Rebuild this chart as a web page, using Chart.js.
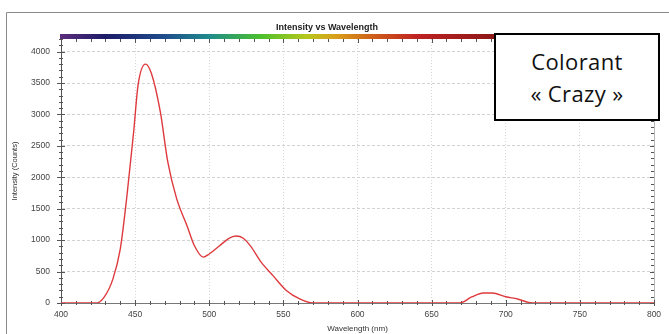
<!DOCTYPE html>
<html>
<head>
<meta charset="utf-8">
<title>Intensity vs Wavelength</title>
<script src="https://cdn.jsdelivr.net/npm/chart.js@4.4.1/dist/chart.umd.min.js"></script>
<style>
  html, body { margin: 0; padding: 0; background: #fff; }
  #wrap { position: relative; width: 669px; height: 334px; }
  #spectrum { position: absolute; left: 0; top: 0; }
  #tag {
    position: absolute; left: 494px; top: 33px; width: 166px; height: 88px;
    box-sizing: border-box; border: 2px solid #000; background: #fff;
    padding-top: 10px; text-align: center; color: #111;
    font-family: "Open Sans", "Liberation Sans", sans-serif; font-size: 22px; line-height: 32px;
    letter-spacing: 0.4px;
  }
</style>
</head>
<body>
<div id="wrap">
  <canvas id="spectrum" width="669" height="334"></canvas>
  <div id="tag">Colorant<br>« Crazy »</div>
</div>
<script>
// Emission spectrum of the dye (wavelength in nm, intensity in counts)
const wavelengthNm = [400, 424, 429, 435, 440, 444.5, 449, 452, 457, 461, 467, 472, 478, 485, 490, 496, 500, 507, 513, 518, 523, 528, 535, 543, 552, 561, 570, 669, 677, 685, 691, 700, 708, 718, 800];
const intensityCounts = [0, 0, 90, 380, 860, 1710, 2720, 3470, 3800, 3650, 3040, 2250, 1660, 1230, 910, 730, 780, 910, 1025, 1065, 1030, 900, 650, 435, 200, 65, 0, 0, 96, 160, 160, 100, 64, 0, 0];

// Axis tick labels
const xTickValues = [400, 450, 500, 550, 600, 650, 700, 750, 800];
const yTickValues = [0, 500, 1000, 1500, 2000, 2500, 3000, 3500, 4000];

// Visible-spectrum colour ramp drawn above the plot
const rampNm = [400, 430, 470, 500, 535, 565, 585, 610, 640, 690, 800];
const rampColors = ['#5b2d7c', '#1c1b68', '#1f4d8c', '#1f8c8c', '#4cc02c', '#b5c81c', '#d9a01a', '#cf6019', '#bf2222', '#8f1818', '#7d1010'];

const points = wavelengthNm.map((x, i) => ({ x, y: intensityCounts[i] }));

const decorations = {
  id: 'decorations',
  beforeDraw(chart) {
    const { ctx } = chart;
    ctx.save();
    ctx.strokeStyle = '#8a8a8a';
    ctx.lineWidth = 1;
    ctx.beginPath();
    ctx.moveTo(6.5, 334);
    ctx.lineTo(6.5, 12.5);
    ctx.lineTo(669, 12.5);
    ctx.stroke();
    ctx.restore();
  },
  beforeDatasetsDraw(chart) {
    const { ctx, chartArea: a, scales: { x, y } } = chart;
    ctx.save();
    // colour ramp
    const g = ctx.createLinearGradient(a.left, 0, a.right, 0);
    rampNm.forEach((nm, i) => g.addColorStop((nm - 400) / 400, rampColors[i]));
    ctx.fillStyle = g;
    ctx.fillRect(a.left - 1, a.top - 5, a.right - a.left + 1, 5);

    // right axis line
    ctx.strokeStyle = '#b8b8b8';
    ctx.lineWidth = 1;
    ctx.beginPath();
    ctx.moveTo(Math.round(a.right) + 0.5, a.top);
    ctx.lineTo(Math.round(a.right) + 0.5, a.bottom);
    ctx.stroke();

    // minor and major tick marks on all four sides
    ctx.strokeStyle = '#555';
    ctx.beginPath();
    for (let nm = 400; nm <= 800; nm += 10) {
      const px = Math.round(x.getPixelForValue(nm)) + 0.5;
      const major = nm % 50 === 0;
      ctx.moveTo(px, a.bottom - (major ? 3 : 2));
      ctx.lineTo(px, a.bottom + (major ? 3 : 2));
      ctx.moveTo(px, a.top);
      ctx.lineTo(px, a.top + (major ? 4 : 3));
    }
    for (let v = 0; v <= 4200; v += 100) {
      const py = Math.round(y.getPixelForValue(v)) + 0.5;
      const major = v % 500 === 0;
      ctx.moveTo(a.left - (major ? 4 : 2), py);
      ctx.lineTo(a.left + (major ? 4 : 2), py);
      ctx.moveTo(a.right - (major ? 4 : 3), py);
      ctx.lineTo(a.right, py);
    }
    ctx.stroke();
    ctx.restore();
  }
};

new Chart(document.getElementById('spectrum'), {
  type: 'line',
  data: {
    datasets: [{
      data: points,
      borderColor: 'rgb(222, 58, 62)',
      borderWidth: 1.4,
      pointRadius: 0,
      fill: false,
      cubicInterpolationMode: 'monotone'
    }]
  },
  options: {
    responsive: false,
    animation: false,
    events: [],
    layout: { padding: { top: 0, left: 0, right: 15, bottom: 0 } },
    plugins: {
      legend: { display: false },
      tooltip: { enabled: false },
      title: {
        display: true,
        text: 'Intensity vs Wavelength',
        color: '#222',
        font: { family: 'Liberation Sans', size: 9, weight: 'bold', lineHeight: 1.2 },
        padding: { top: 22, bottom: 6.2 }
      }
    },
    scales: {
      x: {
        type: 'linear',
        min: 400,
        max: 800,
        afterBuildTicks(s) { s.ticks = xTickValues.map(v => ({ value: v })); },
        afterFit(s) { s.height = 31; },
        ticks: {
          color: '#444',
          padding: 7,
          maxRotation: 0,
          callback: v => String(v),
          font: { family: 'Liberation Sans', size: 8.5 }
        },
        grid: { color: '#d6d6d6', drawTicks: false, lineWidth: 1 },
        border: { color: '#777', dash: [1, 2] },
        title: {
          display: true,
          text: 'Wavelength (nm)',
          color: '#333',
          font: { family: 'Liberation Sans', size: 8 },
          padding: { top: 0, bottom: 0 }
        }
      },
      y: {
        min: 0,
        max: 4200,
        afterBuildTicks(s) { s.ticks = yTickValues.map(v => ({ value: v })); },
        afterFit(s) { s.width = 61; },
        ticks: {
          color: '#444',
          padding: 11,
          callback: v => String(v),
          font: { family: 'Liberation Sans', size: 8.5 }
        },
        grid: { color: '#d2d2d2', drawTicks: false, lineWidth: 1 },
        border: { color: '#555', dash: [3, 2] },
        title: {
          display: true,
          text: 'Intensity (Counts)',
          color: '#333',
          font: { family: 'Liberation Sans', size: 7.5 },
          padding: { top: 10, bottom: 0 }
        }
      }
    }
  },
  plugins: [decorations]
});
</script>
</body>
</html>
